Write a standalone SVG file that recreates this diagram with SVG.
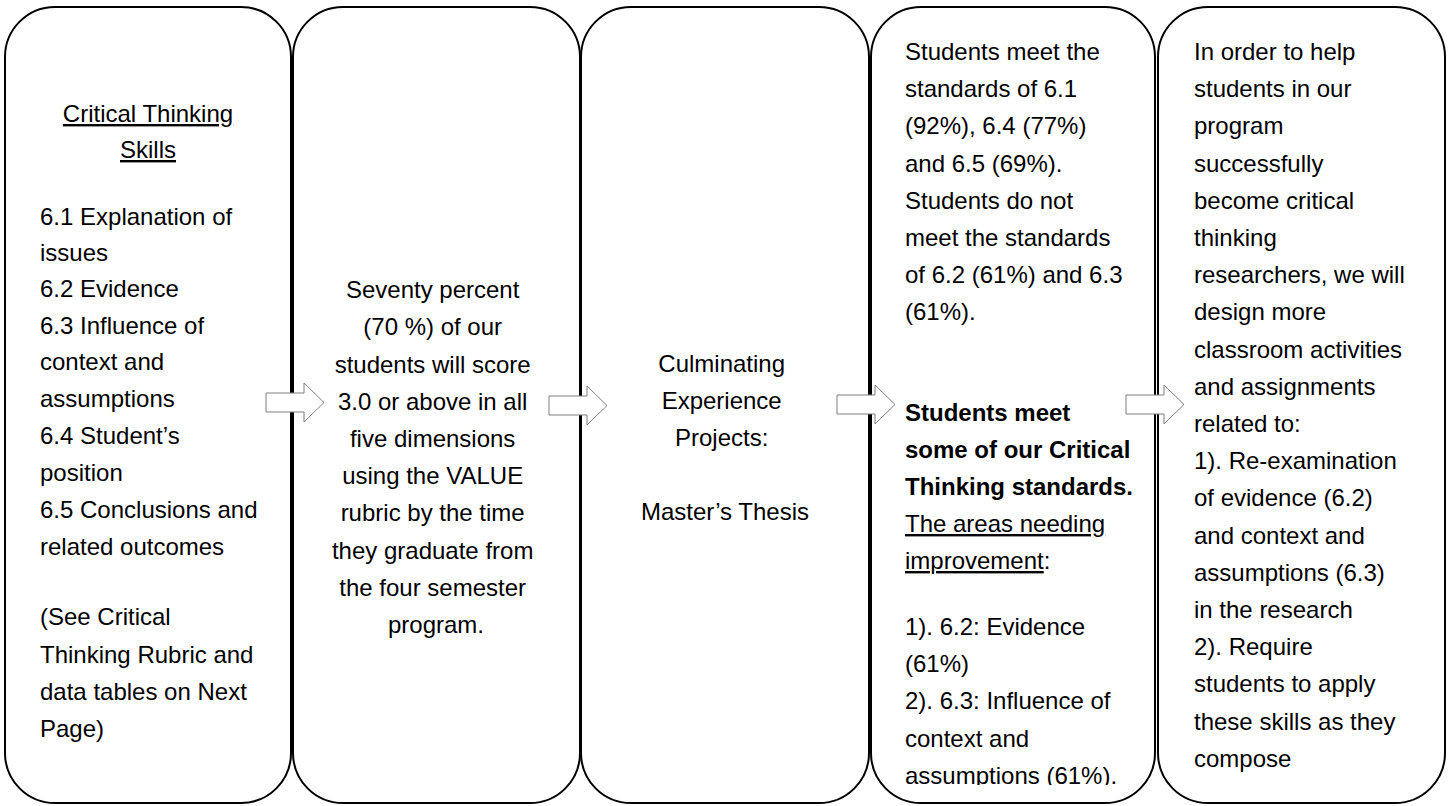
<svg xmlns="http://www.w3.org/2000/svg" width="1450" height="806" viewBox="0 0 1450 806">
<style>
.box{fill:#fff;stroke:#000;stroke-width:2}
.t{font-family:"Liberation Sans",Arial,sans-serif;font-size:24px;fill:#000}
.c{text-anchor:middle}
.u{text-decoration:underline}
.b{font-weight:bold}
.arr{fill:#fff;stroke:#7f7f7f;stroke-width:1}
</style>
<defs>
<path id="blockArrow" d="M0,10 H38 V0 L58,19.5 L38,39 V29 H0 Z"/>
<clipPath id="clip4"><rect x="871" y="7" width="284" height="778"/></clipPath>
</defs>
<g id="node1">
<rect class="box" x="5" y="7" width="286" height="796" rx="50"/>
<text class="t c"><tspan class="u" x="148" y="122">Critical Thinking</tspan><tspan class="u" x="148" y="158">Skills</tspan></text>
<text class="t">
<tspan x="40" y="225">6.1 Explanation of</tspan>
<tspan x="40" y="261">issues</tspan>
<tspan x="40" y="297">6.2 Evidence</tspan>
<tspan x="40" y="334">6.3 Influence of</tspan>
<tspan x="40" y="370">context and</tspan>
<tspan x="40" y="407">assumptions</tspan>
<tspan x="40" y="444">6.4 Student’s</tspan>
<tspan x="40" y="481">position</tspan>
<tspan x="40" y="518">6.5 Conclusions and</tspan>
<tspan x="40" y="555">related outcomes</tspan>
<tspan x="40" y="625">(See Critical</tspan>
<tspan x="40" y="663">Thinking Rubric and</tspan>
<tspan x="40" y="700">data tables on Next</tspan>
<tspan x="40" y="737">Page)</tspan>
</text>
</g>
<g id="node2">
<rect class="box" x="293" y="7" width="287" height="796" rx="50"/>
<text class="t c">
<tspan x="436" y="298">Seventy percent</tspan>
<tspan x="436" y="335">(70 %) of our</tspan>
<tspan x="436" y="373">students will score</tspan>
<tspan x="436" y="410">3.0 or above in all</tspan>
<tspan x="436" y="447">five dimensions</tspan>
<tspan x="436" y="484">using the VALUE</tspan>
<tspan x="436" y="521">rubric by the time</tspan>
<tspan x="436" y="559">they graduate from</tspan>
<tspan x="436" y="596">the four semester</tspan>
<tspan x="436" y="633">program.</tspan>
</text>
</g>
<g id="node3">
<rect class="box" x="581" y="7" width="288" height="796" rx="50"/>
<text class="t c">
<tspan x="725" y="372">Culminating</tspan>
<tspan x="725" y="409">Experience</tspan>
<tspan x="725" y="446">Projects:</tspan>
<tspan x="725" y="520">Master’s Thesis</tspan>
</text>
</g>
<g id="node4">
<rect class="box" x="871" y="7" width="284" height="796" rx="50"/>
<g clip-path="url(#clip4)">
<text class="t">
<tspan x="905" y="60">Students meet the</tspan>
<tspan x="905" y="97">standards of 6.1</tspan>
<tspan x="905" y="134">(92%), 6.4 (77%)</tspan>
<tspan x="905" y="172">and 6.5 (69%).</tspan>
<tspan x="905" y="209">Students do not</tspan>
<tspan x="905" y="246">meet the standards</tspan>
<tspan x="905" y="283">of 6.2 (61%) and 6.3</tspan>
<tspan x="905" y="320">(61%).</tspan>
<tspan class="b" x="905" y="421">Students meet</tspan>
<tspan class="b" x="905" y="458">some of our Critical</tspan>
<tspan class="b" x="905" y="495">Thinking standards.</tspan>
<tspan class="u" x="905" y="532">The areas needing</tspan>
<tspan x="905" y="569"><tspan class="u">improvement</tspan>:</tspan>
<tspan x="905" y="635">1). 6.2: Evidence</tspan>
<tspan x="905" y="672">(61%)</tspan>
<tspan x="905" y="709">2). 6.3: Influence of</tspan>
<tspan x="905" y="747">context and</tspan>
<tspan x="905" y="784">assumptions (61%).</tspan>
</text>
</g>
</g>
<g id="node5">
<rect class="box" x="1158" y="7" width="287" height="796" rx="50"/>
<text class="t">
<tspan x="1194" y="60">In order to help</tspan>
<tspan x="1194" y="97">students in our</tspan>
<tspan x="1194" y="134">program</tspan>
<tspan x="1194" y="172">successfully</tspan>
<tspan x="1194" y="209">become critical</tspan>
<tspan x="1194" y="246">thinking</tspan>
<tspan x="1194" y="283">researchers, we will</tspan>
<tspan x="1194" y="320">design more</tspan>
<tspan x="1194" y="358">classroom activities</tspan>
<tspan x="1194" y="395">and assignments</tspan>
<tspan x="1194" y="432">related to:</tspan>
<tspan x="1194" y="469">1). Re-examination</tspan>
<tspan x="1194" y="506">of evidence (6.2)</tspan>
<tspan x="1194" y="544">and context and</tspan>
<tspan x="1194" y="581">assumptions (6.3)</tspan>
<tspan x="1194" y="618">in the research</tspan>
<tspan x="1194" y="655">2). Require</tspan>
<tspan x="1194" y="692">students to apply</tspan>
<tspan x="1194" y="730">these skills as they</tspan>
<tspan x="1194" y="767">compose</tspan>
</text>
</g>
<g id="connectors">
<use href="#blockArrow" class="arr" x="266" y="383"/>
<use href="#blockArrow" class="arr" x="549" y="386"/>
<use href="#blockArrow" class="arr" x="837" y="385"/>
<use href="#blockArrow" class="arr" x="1126" y="385"/>
</g>
</svg>
